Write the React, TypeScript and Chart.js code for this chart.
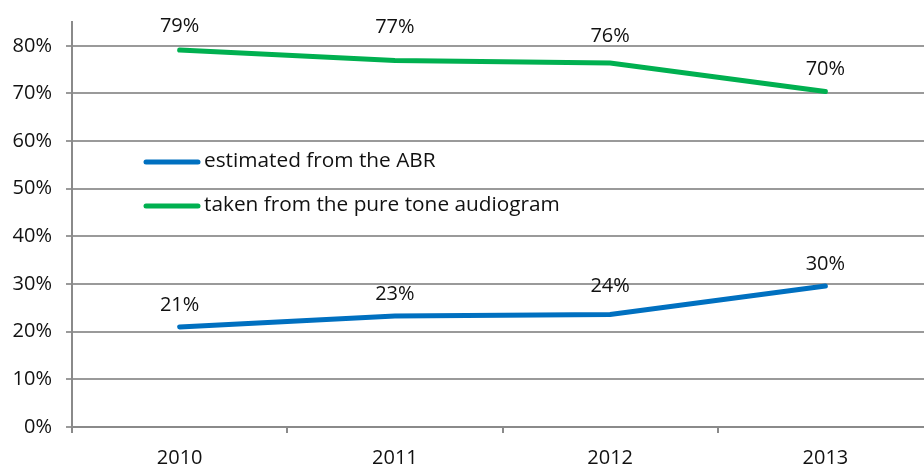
import React, { useEffect, useRef } from "react";
import { Chart, registerables } from "chart.js";

Chart.register(...registerables);

const years = ["2010", "2011", "2012", "2013"];
const abrValues = [21.0, 23.3, 23.6, 29.6];
const audiogramValues = [79.1, 76.9, 76.4, 70.4];
const seriesNames = ["estimated from the ABR", "taken from the pure tone audiogram"];
const seriesColors = ["#0070C0", "#00B050"];
const yTickStep = 10;

// label lift above each point (style, in px)
const labelLift = [
  [22, 22, 28, 22],
  [24, 33, 27, 22],
];

const FONT = "'Open Sans', 'Noto Sans', sans-serif";

const dataLabelPlugin = {
  id: "dataLabels",
  afterDatasetsDraw(chart: any) {
    const ctx = chart.ctx;
    ctx.save();
    ctx.font = `20px ${FONT}`;
    ctx.fillStyle = "#111";
    ctx.textAlign = "center";
    ctx.textBaseline = "middle";
    chart.data.datasets.forEach((ds: any, i: number) => {
      const meta = chart.getDatasetMeta(i);
      meta.data.forEach((pt: any, j: number) => {
        ctx.fillText(Math.round(ds.data[j]) + "%", pt.x, pt.y - labelLift[i][j]);
      });
    });
    ctx.restore();
  },
};

const innerLegendPlugin = {
  id: "innerLegend",
  afterDraw(chart: any) {
    const ctx = chart.ctx;
    const area = chart.chartArea;
    ctx.save();
    ctx.font = `20.8px ${FONT}`;
    ctx.fillStyle = "#111";
    ctx.textAlign = "left";
    ctx.textBaseline = "middle";
    chart.data.datasets.forEach((ds: any, i: number) => {
      const y = area.top + 140 + i * 44;
      const x0 = area.left + 74;
      ctx.strokeStyle = ds.borderColor;
      ctx.lineWidth = 5;
      ctx.lineCap = "round";
      ctx.beginPath();
      ctx.moveTo(x0, y);
      ctx.lineTo(x0 + 52, y);
      ctx.stroke();
      ctx.fillText(ds.label, x0 + 58, y - 1);
    });
    ctx.restore();
  },
};

export default function App() {
  const canvasRef = useRef<HTMLCanvasElement | null>(null);

  useEffect(() => {
    const canvas = canvasRef.current;
    if (!canvas) return;
    const chart = new Chart(canvas, {
      type: "line",
      data: {
        labels: years,
        datasets: [
          {
            label: seriesNames[0],
            data: abrValues,
            borderColor: seriesColors[0],
            backgroundColor: seriesColors[0],
            borderWidth: 5,
            borderCapStyle: "round",
            pointRadius: 0,
            tension: 0,
          },
          {
            label: seriesNames[1],
            data: audiogramValues,
            borderColor: seriesColors[1],
            backgroundColor: seriesColors[1],
            borderWidth: 5,
            borderCapStyle: "round",
            pointRadius: 0,
            tension: 0,
          },
        ],
      },
      options: {
        animation: false,
        responsive: false,
        devicePixelRatio: 1,
        layout: { padding: { left: 0, top: 22, right: 7, bottom: 0 } },
        plugins: {
          legend: { display: false },
          tooltip: { enabled: false },
        },
        scales: {
          x: {
            type: "category",
            offset: true,
            afterFit(scale: any) {
              scale.height = 39;
              scale.paddingLeft = 0;
              scale.paddingRight = 0;
            },
            grid: {
              offset: true,
              drawOnChartArea: false,
              drawTicks: true,
              tickLength: 6,
              color: "#8a8a8a",
              lineWidth: 2,
            },
            border: { display: true, color: "#8a8a8a", width: 2 },
            ticks: {
              color: "#111",
              font: { family: FONT, size: 20 },
              padding: 13,
              maxRotation: 0,
            },
          },
          y: {
            min: 0,
            max: 85,
            afterFit(scale: any) {
              scale.width = 72;
              scale.paddingTop = 0;
              scale.paddingBottom = 0;
            },
            afterBuildTicks(scale: any) {
              scale.ticks = scale.ticks.filter(
                (t: any) => Math.abs(t.value / yTickStep - Math.round(t.value / yTickStep)) < 1e-6
              );
            },
            grid: {
              color: "#9a9a9a",
              lineWidth: 2,
              drawTicks: true,
              tickLength: 6,
            },
            border: { display: true, color: "#8a8a8a", width: 2 },
            ticks: {
              stepSize: yTickStep,
              color: "#111",
              font: { family: FONT, size: 20 },
              padding: 14,
              callback: (v: any) => v + "%",
            },
          },
        },
      },
      plugins: [dataLabelPlugin, innerLegendPlugin],
    });
    return () => chart.destroy();
  }, []);

  return (
    <div
      style={{
        position: "fixed",
        left: 0,
        top: 0,
        width: 924,
        height: 466,
        overflow: "hidden",
        background: "#fff",
      }}
    >
      <canvas ref={canvasRef} width={940} height={466} style={{ display: "block" }} />
    </div>
  );
}
